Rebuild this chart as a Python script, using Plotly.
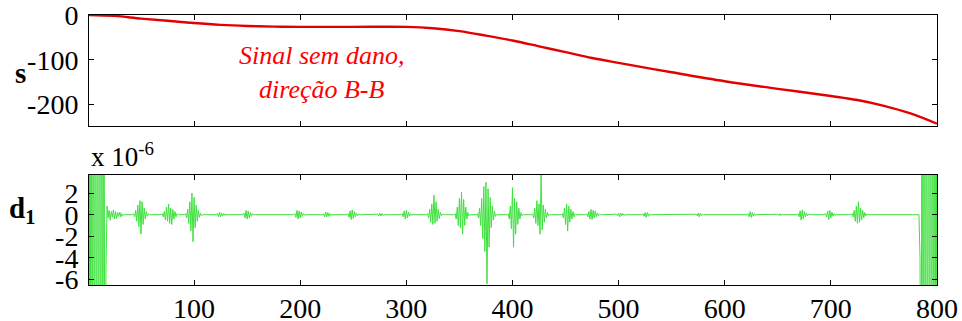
import plotly.graph_objects as go

# ---------------- data ----------------
# top signal s
s_x = [1, 25, 50, 75, 100, 125, 150, 175, 200, 250, 300, 325, 350, 375, 400, 425, 450, 475,
       500, 550, 600, 650, 700, 725, 750, 775, 800]
s_y = [0, -2, -8, -13, -18, -22, -24.5, -26, -26.5, -26.5, -26.5, -29.5, -36, -46, -57, -70, -83, -96,
       -107, -128, -148, -165, -181, -190, -203, -220, -243]

# detail d1 (units of 1e-6): zero except for these bursts
d1_n = 800
d1_burst_start = [18, 43, 70, 92, 122, 147, 195, 222, 245, 273, 296, 320, 346, 367, 396, 419,
                  447, 470, 498, 523, 573, 622, 650, 669, 695, 720]
d1_burst_vals = [
    [0.8, -0.3, 0.4, -0.5, 0.3, -0.2, 0.45, -0.4, 0.3, -0.35, 0.2, -0.15, 0.25, -0.2, 0.1, -0.1],
    [0.1, -0.2, 0.4, -0.6, 0.9, -1.1, 1.3, -1.8, 1.2, -0.9, 0.6, -0.4, 0.3, -0.15, 0.1],
    [0.1, -0.2, 0.3, -0.5, 0.7, -0.6, 1.0, -0.8, 0.6, -0.9, 0.5, -0.4, 0.3, -0.2, 0.1],
    [0.1, -0.3, 0.5, -0.8, 1.2, -1.5, 2.0, -2.5, 1.6, -1.2, 0.9, -0.6, 0.4, -0.25, 0.15, -0.1],
    [0.1, -0.2, 0.25, -0.2, 0.15, -0.1, 0.1, -0.05],
    [0.15, -0.3, 0.4, -0.4, 0.35, -0.3, 0.2, -0.15, 0.1],
    [0.1, -0.25, 0.4, -0.4, 0.35, -0.3, 0.25, -0.15, 0.1, -0.05],
    [0.1, -0.2, 0.25, -0.2, 0.2, -0.15, 0.1, -0.05],
    [0.1, -0.25, 0.35, -0.45, 0.45, -0.35, 0.3, -0.2, 0.15, -0.1, 0.05],
    [0.05, -0.1, 0.15, -0.12, 0.1, -0.05],
    [0.1, -0.2, 0.35, -0.4, 0.4, -0.3, 0.25, -0.15, 0.1, -0.05],
    [0.1, -0.3, 0.5, -0.7, 1.0, -0.9, 1.8, -0.8, 1.2, -0.6, 0.5, -0.35, 0.2, -0.1, 0.05],
    [0.1, -0.4, 0.7, -1.0, 1.5, -1.2, 2.1, -1.8, 1.4, -1.0, 0.7, -0.4, 0.2, -0.1],
    [0.1, -0.3, 0.6, -1.0, 1.5, -2.2, 2.6, -3.4, 3.0, -6.4, 2.4, -3.0, 1.6, -1.2, 0.8, -0.5, 0.3, -0.15],
    [0.1, -0.4, 0.8, -1.3, 2.5, -3.0, 1.5, -1.8, 1.2, -0.9, 0.6, -0.4, 0.2, -0.1],
    [0.1, -0.3, 0.6, -0.8, 1.3, -1.0, 1.0, -1.8, 3.8, -1.4, 0.9, -0.7, 0.5, -0.3, 0.2, -0.1],
    [0.1, -0.3, 0.6, -0.9, 1.0, -1.5, 0.8, -0.7, 0.5, -0.4, 0.3, -0.2, 0.1],
    [0.1, -0.2, 0.3, -0.4, 0.5, -0.45, 0.4, -0.3, 0.35, -0.2, 0.15, -0.1, 0.05],
    [0.05, -0.1, 0.15, -0.2, 0.15, -0.1, 0.1, -0.05],
    [0.1, -0.15, 0.2, -0.25, 0.2, -0.15, 0.1, -0.05],
    [0.05, -0.1, 0.15, -0.2, 0.15, -0.1, 0.05],
    [0.1, -0.2, 0.3, -0.25, 0.2, -0.15, 0.1, -0.05],
    [0.05, -0.08, 0.1, -0.08, 0.05],
    [0.1, -0.2, 0.35, -0.5, 0.45, -0.4, 0.3, -0.2, 0.15, -0.1, 0.05],
    [0.1, -0.2, 0.35, -0.45, 0.4, -0.3, 0.25, -0.15, 0.1, -0.05],
    [0.1, -0.2, 0.4, -0.6, 0.8, -0.8, 1.2, -0.7, 0.6, -0.5, 0.4, -0.3, 0.2, -0.1, 0.05],
]
# boundary effects (far outside the visible range, clipped)
d1_left_start = 1
d1_left_vals = [30, -30, 30, -30, 30, -30, 30, -30, 30, -30, 30, -30, 30, -30, 30, -30, -5]
d1_right_start = 784
d1_right_vals = [-4, -30, 30, -30, 30, -30, 30, -30, 30, -30, 30, -30, 30, -30, 30, -30, 30]

x_ticks = [100, 200, 300, 400, 500, 600, 700, 800]
x_ticktext = ["100", "200", "300", "400", "500", "600", "700", "800"]
s_ticks = [-200, -100, 0]
s_ticktext = ["-200", "-100", "0"]
d_ticks = [-6, -4, -2, 0, 2]
d_ticktext = ["-6", "-4", "-2", "0", "2"]

# ---------------- build d1 ----------------
d1_x = list(range(1, d1_n + 1))
d1_y = [0.0] * d1_n
for st, vals in zip(d1_burst_start + [d1_left_start, d1_right_start],
                    d1_burst_vals + [d1_left_vals, d1_right_vals]):
    for i, v in enumerate(vals):
        d1_y[st - 1 + i] = v

FONT = "Liberation Serif, Times New Roman, serif"

fig = go.Figure()
fig.add_trace(go.Scatter(x=s_x, y=s_y, mode="lines", line=dict(color="#e30000", width=2.4, shape="spline"),
                         xaxis="x", yaxis="y", showlegend=False, hoverinfo="skip"))
fig.add_trace(go.Scatter(x=d1_x, y=d1_y, mode="lines", line=dict(color="#3ee03e", width=1),
                         xaxis="x2", yaxis="y2", showlegend=False, hoverinfo="skip"))

axis_common = dict(showline=True, linecolor="black", linewidth=1, mirror="ticks",
                   ticks="inside", ticklen=5, tickcolor="black", tickwidth=1,
                   showgrid=False, zeroline=False, ticklabeloverflow="allow", automargin=False,
                   tickfont=dict(family=FONT, size=28, color="black"))

fig.update_layout(
    width=962, height=321,
    margin=dict(l=89, r=25, t=15, b=36, autoexpand=False),
    paper_bgcolor="white", plot_bgcolor="white",
    xaxis=dict(domain=[0, 1], range=[1, 800], anchor="y", tickvals=x_ticks, ticktext=x_ticktext,
               showticklabels=False, **axis_common),
    yaxis=dict(domain=[0.589, 1], range=[-248, 0], anchor="x", tickvals=s_ticks, ticktext=s_ticktext,
               **axis_common),
    xaxis2=dict(domain=[0, 1], range=[1, 800], anchor="y2", tickvals=x_ticks, ticktext=x_ticktext,
                **axis_common),
    yaxis2=dict(domain=[0, 0.4085], range=[-6.5, 3.7], anchor="x2", tickvals=d_ticks, ticktext=d_ticktext,
                **axis_common),
)
fig.update_yaxes(ticklabelstandoff=4)
fig.update_xaxes(ticklabelstandoff=-2)

fig.add_annotation(text="<i>Sinal sem dano,<br>direção B-B</i>", xref="x", yref="y", x=220, y=-128,
                   showarrow=False, font=dict(family=FONT, size=26, color="#ff0000"), align="center")
fig.add_annotation(text="<b>s</b>", xref="paper", yref="paper", x=-0.081, y=0.785,
                   xanchor="center", yanchor="middle",
                   showarrow=False, font=dict(family=FONT, size=29, color="black"))
fig.add_annotation(text="<b>d</b><sub><b>1</b></sub>", xref="paper", yref="paper", x=-0.079, y=0.278,
                   xanchor="center", yanchor="middle",
                   showarrow=False, font=dict(family=FONT, size=29, color="black"))
fig.add_annotation(text="x 10<sup>-6</sup>", xref="paper", yref="paper", x=0.0, y=0.41,
                   xanchor="left", yanchor="bottom",
                   showarrow=False, font=dict(family=FONT, size=27, color="black"))

fig.write_html("out.html", config={"displayModeBar": False},
               post_script="document.body.style.margin='0';document.body.style.overflow='hidden';")
